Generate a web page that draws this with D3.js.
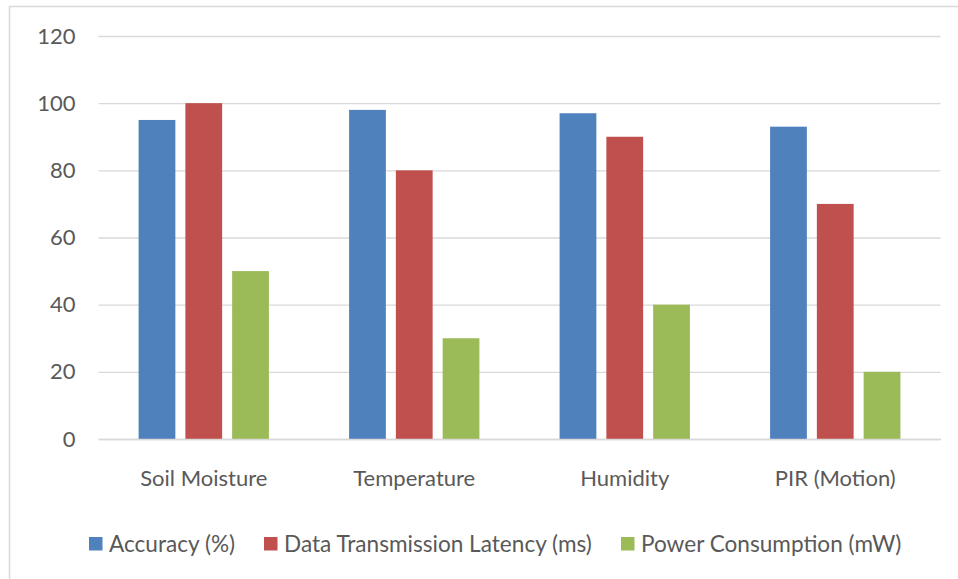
<!DOCTYPE html>
<html><head><meta charset="utf-8">
<script src="https://cdn.jsdelivr.net/npm/d3@7"></script>
<style>body{margin:0;background:#fff}svg{display:block}text{font-family:Lato,"Open Sans",sans-serif;fill:#595959}</style>
</head><body><svg id="c" width="958" height="579"></svg>
<script>
const categories = ["Soil Moisture","Temperature","Humidity","PIR (Motion)"];
const seriesNames = ["Accuracy (%)","Data Transmission Latency (ms)","Power Consumption (mW)"];
const accuracy = [95,98,97,93];
const latency = [100,80,90,70];
const power = [50,30,40,20];
const yTicks = [0,20,40,60,80,100,120];
const colors = ["#4f81bd","#c0504d","#9bbb59"];
const seriesValues = [accuracy, latency, power];

const svg = d3.select("#c");
svg.append("rect").attr("x",9.5).attr("y",6.5).attr("width",1000).attr("height",1000)
  .attr("fill","none").attr("stroke","#d9d9d9").attr("stroke-width",1.5);

const pLeft=98.5, pRight=940.5, pTop=36, pBottom=439;
const y = d3.scaleLinear().domain([0,120]).range([pBottom,pTop]);
const x0 = d3.scaleBand().domain(categories).range([pLeft,pRight]).padding(0);
const x1 = d3.scaleBand().domain(d3.range(3)).range([0,x0.bandwidth()]).paddingInner(0.214).paddingOuter(0.857);

const yAxis = svg.append("g").attr("transform",`translate(${pLeft},0)`)
  .call(d3.axisLeft(y).tickValues(yTicks).tickSize(-(pRight-pLeft)).tickPadding(23).tickFormat(d3.format("d")));
yAxis.select(".domain").remove();
yAxis.selectAll(".tick line").attr("stroke","#d9d9d9").attr("stroke-width",1.3);
yAxis.selectAll(".tick text").attr("font-size",22).style("font-family","Lato").attr("fill","#595959");

const groups = svg.append("g").selectAll("g").data(categories).join("g")
  .attr("transform",d=>`translate(${x0(d)},0)`);
groups.selectAll("rect").data((d,i)=>seriesValues.map((s,j)=>({j,v:s[i]}))).join("rect")
  .attr("x",d=>x1(d.j)).attr("width",x1.bandwidth())
  .attr("y",d=>y(d.v)).attr("height",d=>y(0)-y(d.v)).attr("fill",d=>colors[d.j]);

const xAxis = svg.append("g").attr("transform",`translate(0,${pBottom})`)
  .call(d3.axisBottom(x0).tickSize(0).tickPadding(31));
xAxis.select(".domain").attr("stroke","#d9d9d9").attr("stroke-width",1.5);
xAxis.selectAll(".tick text").attr("font-size",22).style("font-family","Lato").attr("fill","#595959");

const legX = [89, 264, 621];
const leg = svg.append("g").selectAll("g").data(seriesNames).join("g")
  .attr("transform",(d,i)=>`translate(${legX[i]},537)`);
leg.append("rect").attr("width",13.5).attr("height",13.5).attr("fill",(d,i)=>colors[i]);
leg.append("text").attr("x",20).attr("y",14.5).attr("font-size",22.6).text(d=>d);
</script></body></html>
